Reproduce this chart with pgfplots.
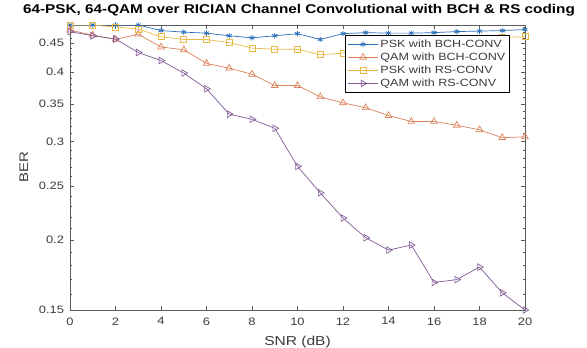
\documentclass[border=0pt]{standalone}
\usepackage{pgfplots}
\pgfplotsset{compat=1.18}
\usetikzlibrary{calc}
\usepackage{fontspec}
\setmainfont{Liberation Sans}[FakeStretch=1.2]
\definecolor{cblue}{RGB}{45,110,185}
\definecolor{corange}{RGB}{220,130,90}
\definecolor{cyellow}{RGB}{232,185,70}
\definecolor{cpurple}{RGB}{130,90,150}
\definecolor{axgray}{RGB}{90,90,90}
\definecolor{txgray}{RGB}{60,60,60}
\begin{document}
\begin{tikzpicture}
\begin{axis}[
  name=ax,
  scale only axis,
  width=455bp, height=285bp,
  ymode=log,
  xmin=0, xmax=20, ymin=0.15, ymax=0.485,
  xtick={0,2,...,20},
  ytick={0.15,0.2,0.25,0.3,0.35,0.4,0.45},
  yticklabels={0.15,0.2,0.25,0.3,0.35,0.4,0.45},
  minor ytick={0.16,0.17,0.18,0.19,0.21,0.22,0.23,0.24,0.26,0.27,0.28,0.29,0.31,0.32,0.33,0.34,0.36,0.37,0.38,0.39,0.41,0.42,0.43,0.44,0.46,0.47,0.48},
  /pgf/number format/assume math mode=true,
  log ticks with fixed point,
  axis line style={axgray, line width=0.6bp},
  tick style={axgray, line width=0.5bp},
  major tick length=4.5bp,
  minor tick length=2.5bp,
  tick align=inside,
  ticklabel style={font=\fontsize{10.8}{12}\selectfont, text=txgray},
  xticklabel style={yshift=-4bp},
  yticklabel style={xshift=-2.5bp},
  title={\bfseries 64-PSK, 64-QAM over RICIAN Channel Convolutional with BCH \& RS coding},
  title style={font=\fontsize{12.8}{14}\selectfont, at={(0.5033,1.021)}, anchor=base, inner sep=0pt},
  xlabel={SNR (dB)},
  xlabel style={font=\fontsize{13}{14}\selectfont, text=txgray, at={(0.5,-0.1228)}, anchor=base, inner sep=0pt},
  ylabel={BER},
  ylabel style={font=\fontsize{12.5}{14}\selectfont, text=txgray, at={(-0.0923,0.5)}, anchor=base, inner sep=0pt},
  legend style={at={(0.967,0.965)}, anchor=north east, draw=black, line width=0.5bp, fill=white,
    font=\fontsize{10.5}{12}\selectfont, text=txgray, cells={anchor=west}, inner sep=2.5bp, row sep=0bp},
  legend image code/.code={
    \draw[mark repeat=2,mark phase=2] plot coordinates {(0bp,0bp) (15bp,0bp) (30bp,0bp)};
  },
  every axis plot/.append style={line width=0.7bp},
]
\addplot[color=cblue, mark=asterisk, mark size=2.8bp, mark options={line width=0.8bp}] coordinates {
(0,0.485)(1,0.485)(2,0.485)(3,0.485)(4,0.474)(5,0.471)(6,0.469)(7,0.464)(8,0.460)(9,0.464)(10,0.468)
(11,0.457)(12,0.468)(13,0.470)(14,0.469)(15,0.469)(16,0.470)(17,0.472)(18,0.473)(19,0.474)(20,0.476)};
\addlegendentry{PSK with BCH-CONV}
\addplot[color=corange, mark=triangle, mark size=3.8bp] coordinates {
(0,0.475)(1,0.465)(2,0.457)(3,0.467)(4,0.443)(5,0.438)(6,0.414)(7,0.406)(8,0.396)(9,0.378)(10,0.378)
(11,0.361)(12,0.352)(13,0.345)(14,0.334)(15,0.326)(16,0.326)(17,0.321)(18,0.315)(19,0.305)(20,0.306)};
\addlegendentry{QAM with BCH-CONV}
\addplot[color=cyellow, mark=square, mark size=3bp] coordinates {
(0,0.485)(1,0.485)(2,0.481)(3,0.477)(4,0.462)(5,0.457)(6,0.457)(7,0.451)(8,0.441)(9,0.439)(10,0.439)
(11,0.429)(12,0.432)(13,0.445)(14,0.450)(15,0.452)(16,0.455)(17,0.458)(18,0.460)(19,0.461)(20,0.462)};
\addlegendentry{PSK with RS-CONV}
\addplot[color=cpurple, mark=triangle, mark size=3.8bp, mark options={rotate=-90}] coordinates {
(0,0.472)(1,0.464)(2,0.458)(3,0.433)(4,0.419)(5,0.398)(6,0.373)(7,0.336)(8,0.329)(9,0.317)(10,0.271)
(11,0.243)(12,0.219)(13,0.202)(14,0.192)(15,0.196)(16,0.168)(17,0.170)(18,0.179)(19,0.161)(20,0.150)};
\addlegendentry{QAM with RS-CONV}
\end{axis}
\path ($(ax.south west)+(-70bp,-37bp)$) rectangle ($(ax.north east)+(62bp,25bp)$);
\end{tikzpicture}
\end{document}
